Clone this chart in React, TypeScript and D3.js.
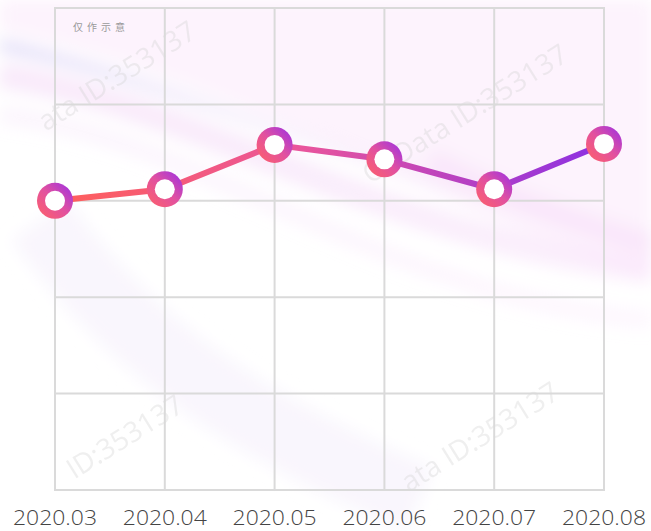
import React from 'react'
import * as d3 from 'd3'

// months on the x axis and the plotted values (y axis has no labels, 0..5 grid)
const months = ['2020.03', '2020.04', '2020.05', '2020.06', '2020.07', '2020.08']
const values = [3.0, 3.12, 3.58, 3.43, 3.12, 3.59]
const yTicks = [0, 1, 2, 3, 4, 5]

const W = 651, H = 531
const left = 55, right = 604, top = 8, bottom = 490

export default function App() {
  const x = d3.scalePoint<string>().domain(months).range([left, right])
  const y = d3.scaleLinear().domain([0, 5]).range([bottom, top])

  const line = d3.line<number>()
    .x((_, i) => x(months[i]) as number)
    .y(d => y(d))

  // background swooshes
  const swoosh = (y0: number, y1: number, c: number) =>
    `M0,${y0} C${W * 0.3},${y0 + c} ${W * 0.6},${y1 - c} ${W},${y1}`

  const marks = [
    { t: 'ata ID:353137', x: 122, y: 84 },
    { t: 'CBData ID:353137', x: 470, y: 122 },
    { t: 'ID:353137', x: 130, y: 445 },
    { t: 'ata ID:353137', x: 485, y: 445 },
  ]

  return (
    <div style={{ position: 'fixed', left: 0, top: 0 }}>
      <svg width={W} height={H} style={{ display: 'block', background: '#fff' }}>
        <defs>
          <linearGradient id="lineGrad" gradientUnits="userSpaceOnUse" x1={left} x2={right} y1={0} y2={0}>
            <stop offset="0%" stopColor="#ff5f5a" />
            <stop offset="45%" stopColor="#e9559c" />
            <stop offset="100%" stopColor="#8b2fe3" />
          </linearGradient>
          <linearGradient id="dotGrad" x1="0" y1="1" x2="1" y2="0">
            <stop offset="0%" stopColor="#ff6166" />
            <stop offset="50%" stopColor="#e2519f" />
            <stop offset="100%" stopColor="#9a2fe6" />
          </linearGradient>
          <linearGradient id="bgPink" x1="0" y1="0" x2="1" y2="0">
            <stop offset="0%" stopColor="#f3d6f7" stopOpacity="0.5" />
            <stop offset="100%" stopColor="#f9e0fb" stopOpacity="0.5" />
          </linearGradient>
          <linearGradient id="bgBlue" x1="0" y1="0" x2="1" y2="0">
            <stop offset="0%" stopColor="#d4cdf6" stopOpacity="0.8" />
            <stop offset="50%" stopColor="#ecd8f6" stopOpacity="0.3" />
            <stop offset="100%" stopColor="#f1d8f6" stopOpacity="0" />
          </linearGradient>
          <filter id="blur"><feGaussianBlur stdDeviation="8" /></filter>
        </defs>

        <g filter="url(#blur)" fill="none">
          <path d={`M0,0 L${W},0 L${W},280 C450,220 250,80 0,30 Z`} fill="#fdf3fd" stroke="none" />
          <path d={swoosh(45, 230, 40)} stroke="url(#bgBlue)" strokeWidth={10} />
          <path d={swoosh(75, 270, 30)} stroke="url(#bgPink)" strokeWidth={26} />
          <path d={swoosh(115, 320, 20)} stroke="url(#bgPink)" strokeWidth={18} opacity={0.5} />
          <path d="M40,220 C140,360 260,430 420,500" stroke="#f9f6fd" strokeWidth={70} />
          <path d="M430,160 C510,200 580,225 651,245" stroke="#f7def9" strokeWidth={22} opacity={0.6} />
        </g>

        {marks.map((m, i) => (
          <text key={i} x={m.x} y={m.y} transform={`rotate(-32 ${m.x} ${m.y})`}
            textAnchor="middle" fontFamily="Open Sans, sans-serif" fontSize={28}
            fill="#d2d2d2" opacity={0.35}>{m.t}</text>
        ))}

        <g stroke="#dadada" strokeWidth={2}>
          {yTicks.map(t => (
            <line key={t} x1={left - 1} x2={right + 1} y1={y(t)} y2={y(t)} />
          ))}
          {months.map(m => (
            <line key={m} x1={x(m)} x2={x(m)} y1={top - 1} y2={bottom + 1} />
          ))}
        </g>

        <text x={73} y={31} fontSize={10} fill="#9a9a9a" letterSpacing={4}
          fontFamily="Noto Sans CJK SC, sans-serif">仅作示意</text>

        <path d={line(values) || ''} fill="none" stroke="url(#lineGrad)" strokeWidth={6} strokeLinejoin="round" />

        {values.map((v, i) => (
          <g key={i}>
            <circle cx={x(months[i])} cy={y(v)} r={18} fill="url(#dotGrad)" />
            <circle cx={x(months[i])} cy={y(v)} r={10} fill="#fff" />
          </g>
        ))}

        {months.map(m => (
          <text key={m} x={x(m)} y={525} textAnchor="middle" fontSize={21}
            fontFamily="Open Sans, sans-serif" fontWeight={300} fill="#444"
            textLength={84} lengthAdjust="spacingAndGlyphs">{m}</text>
        ))}
      </svg>
    </div>
  )
}
